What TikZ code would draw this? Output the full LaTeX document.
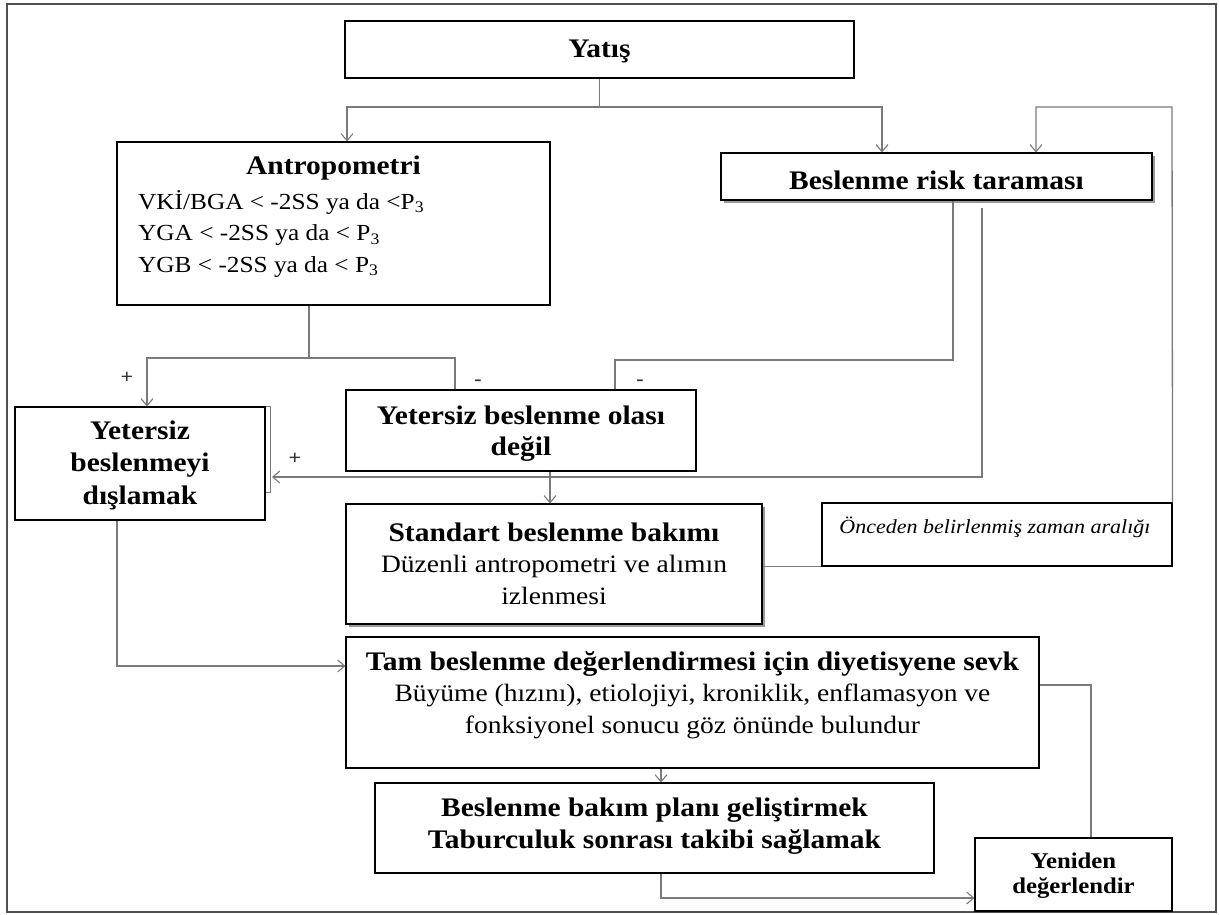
\documentclass[tikz,border=0pt]{standalone}
\usepackage{fontspec}
\setmainfont{Liberation Serif}[FakeStretch=1.1]
\usetikzlibrary{arrows.meta,shadows,calc}
\definecolor{lc}{HTML}{7A7A7A}
\definecolor{fc}{HTML}{505050}
\begin{document}
\begin{tikzpicture}[x=1pt,y=-1pt,
  box/.style={draw=black, line width=1.1pt, rectangle, inner sep=0pt, fill=white},
  sh/.style={drop shadow={shadow xshift=2.5pt, shadow yshift=-3pt, fill=black!40, opacity=1}},
  conn/.style={draw=lc, line width=1.3pt},
  arr/.style={conn, -{Straight Barb[length=7pt,width=12pt,line width=1.1pt]}},
  tb/.style={font=\fontsize{26.8}{31.5}\selectfont\bfseries, inner sep=0pt, align=center},
  tr/.style={font=\fontsize{25}{31.5}\selectfont, inner sep=0pt},
  ti/.style={font=\fontsize{20}{24}\selectfont\itshape, inner sep=0pt},
  ts/.style={font=\fontsize{22.5}{25}\selectfont\bfseries, inner sep=0pt, align=center},
  lab/.style={font=\fontsize{20}{20}\selectfont\bfseries, inner sep=0pt, text=black!80}]
\useasboundingbox (0,0) rectangle (1219,915);
\draw[fc, line width=2.4pt] (7,4) rectangle (1216,912);

% boxes
\node[box, minimum width=509pt, minimum height=57pt] (yatis) at (599.5,49.5) {};
\node[box, minimum width=433pt, minimum height=163pt] (ant) at (333.5,223.5) {};
\node[box, sh, minimum width=431pt, minimum height=47pt] (risk) at (936.5,176.5) {};
\node[box, minimum width=250pt, minimum height=113pt] (dis) at (140,463.5) {};
\node[box, minimum width=350pt, minimum height=81pt] (olasi) at (521,430.5) {};
\node[box, sh, minimum width=416pt, minimum height=120pt] (std) at (554,564) {};
\node[box, minimum width=350pt, minimum height=63pt] (once) at (997,534.5) {};
\node[box, minimum width=693pt, minimum height=131pt] (tam) at (692.5,702.5) {};
\node[box, minimum width=559pt, minimum height=90pt] (bakim) at (654.5,828) {};
\node[box, minimum width=197pt, minimum height=73pt] (yen) at (1073.5,874.5) {};

% texts
\node[tb] (tyatis) at (599.5,51) {Yatış};
\node[tb] (tant) at (333.5,168) {Antropometri};
\node[tr, align=left, anchor=west, font=\fontsize{23}{31.5}\selectfont] (tantl) at (138,233.5) {VKİ/BGA < -2SS ya da <P\textsubscript{3}\\YGA < -2SS ya da < P\textsubscript{3}\\YGB < -2SS ya da < P\textsubscript{3}};
\node[tb] (trisk) at (936.5,180) {Beslenme risk taraması};
\node[tb, align=center, font=\fontsize{26.8}{32.5}\selectfont\bfseries] (tdis) at (140,465) {Yetersiz\\beslenmeyi\\dışlamak};
\node[tb] (tolasi) at (521,433.5) {Yetersiz beslenme olası\\değil};
\node[tr, align=center] (tstd) at (554,563.5) {\fontsize{26.8}{31.5}\selectfont\textbf{Standart beslenme bakımı}\\Düzenli antropometri ve alımın\\izlenmesi};
\node[ti] (tonce) at (995,527) {Önceden belirlenmiş zaman aralığı};
\node[tr, align=center] (ttam) at (692.5,695) {\fontsize{26.8}{31.5}\selectfont\textbf{Tam beslenme değerlendirmesi için diyetisyene sevk}\\Büyüme (hızını), etiolojiyi, kroniklik, enflamasyon ve\\fonksiyonel sonucu göz önünde bulundur};
\node[tb] (tbakim) at (654.5,826) {Beslenme bakım planı geliştirmek\\Taburculuk sonrası takibi sağlamak};
\node[ts] (tyen) at (1073.5,875.5) {Yeniden\\değerlendir};

% connectors
\coordinate (b1) at (347,107);
\coordinate (b2) at (882,107);
\draw[arr] (yatis.south) |- (b1) -- (b1 |- ant.north);
\draw[arr] (yatis.south) |- (b2) -- (b2 |- risk.north);

\coordinate (b3) at (1172,107);
\coordinate (b4) at (1036,107);
\draw[conn] (once.south west -| std.east) -- (once.south west);
\draw[arr] (once.north east) -- (b3) -- (b4) -- (b4 |- risk.north);

\coordinate (c1) at (309,358);
\coordinate (c2) at (147,358);
\coordinate (c3) at (455,358);
\draw[conn] (c1 |- ant.south) -- (c1);
\draw[arr] (c1) -- (c2) -- (c2 |- dis.north);
\draw[conn] (c1) -- (c3) -- (c3 |- olasi.north);
\node[lab] (lp1) at (127,378) {+};
\node[lab] (lm1) at (478,383) {-};

\coordinate (d1) at (953,360);
\coordinate (d2) at (615,360);
\draw[conn] (d1 |- risk.south) -- (d1) -- (d2) -- (d2 |- olasi.north);
\node[lab] (lm2) at (640,383) {-};

\coordinate (e1) at (982,477);
\coordinate (e2) at (272,477);
\draw[arr] ($(e1 |- risk.south)+(0,7)$) -- (e1) -- (e2);
\draw[conn] (dis.north east) -- ++(5,0) -- ++(0,86) -- ++(-5,0);
\node[lab] (lp2) at (295,459) {+};

\coordinate (f1) at (550,0);
\draw[arr] (olasi.south -| f1) -- (std.north -| f1);

\coordinate (g1) at (117,666);
\draw[arr] (g1 |- dis.south) -- (g1) -- (g1 -| tam.west);

\coordinate (h1) at (661,898);
\draw[arr] (tam.south -| h1) -- (bakim.north -| h1);
\draw[arr] (h1 |- bakim.south) -- (h1) -- (h1 -| yen.west);

\coordinate (k1) at (1091,685);
\draw[conn] (k1 -| tam.east) -- (k1) -- (k1 |- yen.north);
\end{tikzpicture}
\end{document}
